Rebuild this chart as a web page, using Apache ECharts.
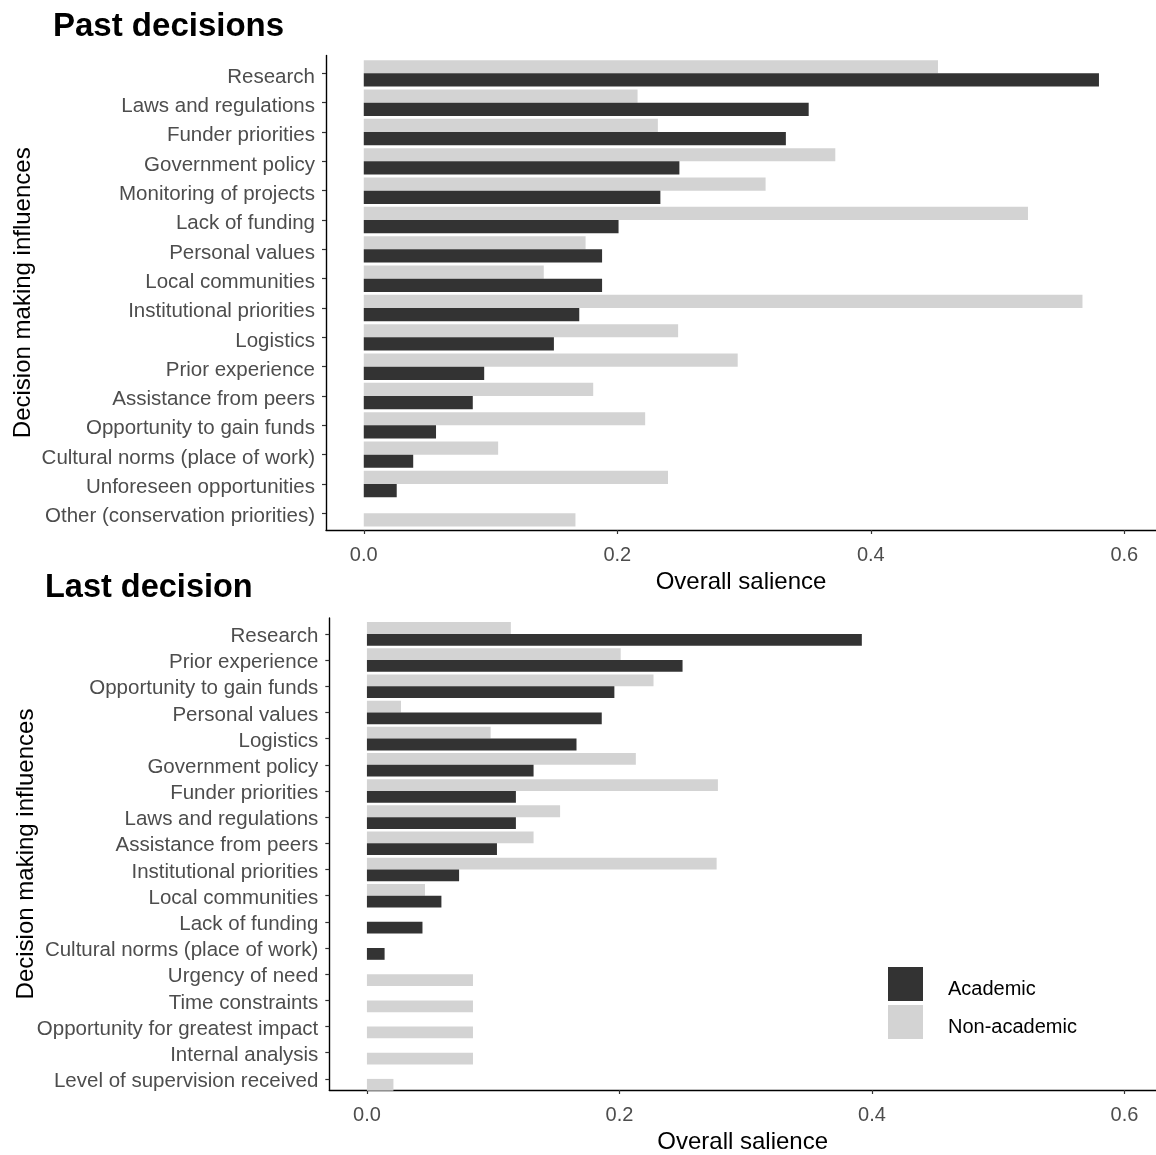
<!DOCTYPE html>
<html>
<head>
<meta charset="utf-8">
<script src="https://cdn.jsdelivr.net/npm/echarts@6/dist/echarts.min.js"></script>
<style>
  html, body { margin: 0; padding: 0; background: #ffffff; }
  #chart { width: 1156px; height: 1155px; }
</style>
</head>
<body>
<div id="chart"></div>
<script>
// ---------------- data ----------------
const pastCategories = [
  "Research", "Laws and regulations", "Funder priorities", "Government policy",
  "Monitoring of projects", "Lack of funding", "Personal values", "Local communities",
  "Institutional priorities", "Logistics", "Prior experience", "Assistance from peers",
  "Opportunity to gain funds", "Cultural norms (place of work)", "Unforeseen opportunities",
  "Other (conservation priorities)"
];
const pastAcademic = [0.580, 0.351, 0.333, 0.249, 0.234, 0.201, 0.188, 0.188, 0.170, 0.150, 0.095, 0.086, 0.057, 0.039, 0.026, null];
const pastNonAcademic = [0.453, 0.216, 0.232, 0.372, 0.317, 0.524, 0.175, 0.142, 0.567, 0.248, 0.295, 0.181, 0.222, 0.106, 0.240, 0.167];

const lastCategories = [
  "Research", "Prior experience", "Opportunity to gain funds", "Personal values", "Logistics",
  "Government policy", "Funder priorities", "Laws and regulations", "Assistance from peers",
  "Institutional priorities", "Local communities", "Lack of funding", "Cultural norms (place of work)",
  "Urgency of need", "Time constraints", "Opportunity for greatest impact", "Internal analysis",
  "Level of supervision received"
];
const lastAcademic = [0.392, 0.250, 0.196, 0.186, 0.166, 0.132, 0.118, 0.118, 0.103, 0.073, 0.059, 0.044, 0.014, null, null, null, null, null];
const lastNonAcademic = [0.114, 0.201, 0.227, 0.027, 0.098, 0.213, 0.278, 0.153, 0.132, 0.277, 0.046, null, null, 0.084, 0.084, 0.084, 0.084, 0.021];

const xTicks = [0, 0.2, 0.4, 0.6];
const panelTitles = ["Past decisions", "Last decision"];
const seriesNames = ["Academic", "Non-academic"];
const xTitle = "Overall salience";
const yTitle = "Decision making influences";

// ---------------- styles ----------------
const FONT = "'Liberation Sans', Arial, sans-serif";
const DARK = "#333333";
const LIGHT = "#d3d3d3";
const X_MIN = -0.0298, X_MAX = 0.625;

const panels = [
  { cats: pastCategories, ac: pastAcademic, na: pastNonAcademic,
    bar: { left: 326, top: 58.7, width: 830, height: 469.3 },
    frame: { left: 326, top: 55.5, width: 830, height: 474.5 } },
  { cats: lastCategories, ac: lastAcademic, na: lastNonAcademic,
    bar: { left: 329.3, top: 620.8, width: 826.7, height: 471.2 },
    frame: { left: 329.3, top: 618, width: 826.7, height: 475 } }
];

const grid = [], xAxis = [], yAxis = [], series = [];
panels.forEach((p, k) => {
  const gBar = grid.length;
  grid.push(p.bar);
  const gFrame = grid.length;
  grid.push(p.frame);

  // bar grid axes
  xAxis.push({ gridIndex: gBar, type: 'value', min: X_MIN, max: X_MAX, show: false,
    axisLine: { onZero: false }, splitLine: { show: false } });
  yAxis.push({ gridIndex: gBar, type: 'category', inverse: true, data: p.cats,
    axisLine: { show: false, onZero: false },
    axisTick: { show: true, interval: 0, length: 4, alignWithLabel: true, lineStyle: { color: '#333333', width: 1.2 } },
    axisLabel: { interval: 0, hideOverlap: false, fontFamily: FONT, fontSize: 20.5, color: '#4d4d4d', margin: 11,
      verticalAlign: 'top', lineHeight: k === 0 ? 7 : 5 },
    splitLine: { show: false } });

  // frame grid axes (axis lines, x ticks, titles)
  xAxis.push({ gridIndex: gFrame, type: 'value', min: X_MIN, max: X_MAX,
    axisLine: { show: true, onZero: false, lineStyle: { color: '#000000', width: 1.4 } },
    axisTick: { show: true, length: 4, customValues: xTicks, lineStyle: { color: '#333333', width: 1.2 } },
    axisLabel: { customValues: xTicks, formatter: v => v.toFixed(1), fontFamily: FONT, fontSize: 20, color: '#4d4d4d', margin: 15 },
    splitLine: { show: false },
    name: xTitle, nameLocation: 'middle', nameGap: 40,
    nameTextStyle: { fontFamily: FONT, fontSize: 24, color: '#000000' } });
  yAxis.push({ gridIndex: gFrame, type: 'value', min: 0, max: 1,
    axisLine: { show: true, onZero: false, lineStyle: { color: '#000000', width: 1.4 } },
    axisTick: { show: false }, axisLabel: { show: false }, splitLine: { show: false },
    name: yTitle, nameLocation: 'middle', nameRotate: 90, nameGap: 291,
    nameTextStyle: { fontFamily: FONT, fontSize: 24, color: '#000000' } });

  const axisIdx = k * 2;
  // upper slot: non-academic where both groups are present
  const naPaired = p.na.map((v, i) => (p.ac[i] != null ? v : null));
  // lower slot: academic, or non-academic when it is the only group
  const naSingle = p.na.map((v, i) => (p.ac[i] == null ? v : null));
  const common = { type: 'bar', xAxisIndex: axisIdx, yAxisIndex: axisIdx,
    barGap: '0%', barCategoryGap: '10%', silent: true, animation: false };
  series.push(Object.assign({}, common, { name: seriesNames[1], stack: 'upper' + k, data: naPaired, itemStyle: { color: LIGHT } }));
  series.push(Object.assign({}, common, { name: seriesNames[0], stack: 'lower' + k, data: p.ac, itemStyle: { color: DARK } }));
  series.push(Object.assign({}, common, { name: seriesNames[1], stack: 'lower' + k, data: naSingle, itemStyle: { color: LIGHT } }));
});

const option = {
  backgroundColor: '#ffffff',
  animation: false,
  title: [
    { text: panelTitles[0], left: 48, top: 5, padding: 5, textStyle: { fontFamily: FONT, fontSize: 33, fontWeight: 'bold', color: '#000000' } },
    { text: panelTitles[1], left: 40, top: 567, padding: 5, textStyle: { fontFamily: FONT, fontSize: 32.5, fontWeight: 'bold', color: '#000000' } }
  ],
  legend: {
    data: [
      { name: seriesNames[0], itemStyle: { color: DARK } },
      { name: seriesNames[1], itemStyle: { color: LIGHT } }
    ],
    orient: 'vertical', left: 883, top: 962, padding: 5,
    icon: 'rect', itemWidth: 35, itemHeight: 34, itemGap: 4,
    selectedMode: false,
    formatter: name => '{t|' + name + '}',
    textStyle: { fontFamily: FONT, fontSize: 20, color: '#000000',
      rich: { t: { fontFamily: FONT, fontSize: 20, color: '#000000', padding: [10, 0, 0, 20] } } }
  },
  grid: grid,
  xAxis: xAxis,
  yAxis: yAxis,
  series: series
};

const chart = echarts.init(document.getElementById('chart'), null, { renderer: 'canvas' });
chart.setOption(option);
</script>
</body>
</html>
